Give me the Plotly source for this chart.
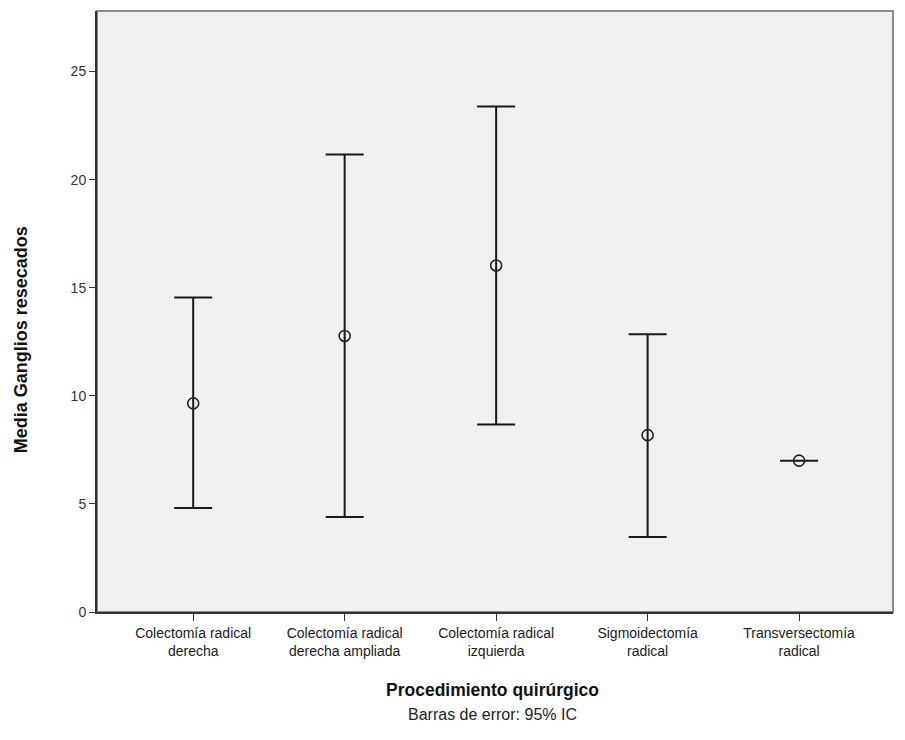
import plotly.graph_objects as go

categories = ["Colectomía radical<br>derecha", "Colectomía radical<br>derecha ampliada",
              "Colectomía radical<br>izquierda", "Sigmoidectomía<br>radical",
              "Transversectomía<br>radical"]
means = [9.65, 12.77, 16.03, 8.18, 7.0]
upper = [14.55, 21.16, 23.38, 12.85, 7.0]
lower = [4.81, 4.40, 8.67, 3.47, 7.0]

err_plus = [u - m for u, m in zip(upper, means)]
err_minus = [m - l for m, l in zip(means, lower)]
xs = list(range(len(categories)))

fig = go.Figure()
fig.add_trace(go.Scatter(
    x=xs, y=means, mode="markers",
    marker=dict(symbol="circle-open", size=11, color="#222222", line=dict(width=1.6)),
    error_y=dict(type="data", symmetric=False, array=err_plus, arrayminus=err_minus,
                 color="#1a1a1a", thickness=2, width=19),
    showlegend=False, hoverinfo="y",
))

fig.update_layout(
    width=897, height=732,
    margin=dict(l=89, r=12, t=3, b=128, autoexpand=False),
    paper_bgcolor="white", plot_bgcolor="#F0F0F0",
    font=dict(family="Liberation Sans, Arial, sans-serif", color="#222222"),
    xaxis=dict(
        range=[-0.635, 4.62], tickmode="array", tickvals=xs, ticktext=categories,
        showgrid=False, zeroline=False, showline=True, linecolor="#333333", linewidth=2,
        ticks="outside", ticklen=7, tickcolor="#333333", tickwidth=1, automargin=False,
        tickfont=dict(family="Liberation Sans, Arial, sans-serif", size=14, color="#1a1a1a"),
    ),
    yaxis=dict(
        range=[0, 27.8], tickvals=[0, 5, 10, 15, 20, 25],
        showgrid=False, zeroline=False, showline=True, linecolor="#333333", linewidth=2,
        ticks="outside", ticklen=6, tickcolor="#333333", tickwidth=1, automargin=False,
        tickfont=dict(family="Liberation Sans, Arial, sans-serif", size=14, color="#333333"),
    ),
    shapes=[dict(type="rect", xref="paper", yref="paper", x0=0, x1=1, y0=0, y1=1,
                 line=dict(color="#888888", width=2), layer="below")],
    annotations=[
        dict(text="<b>Procedimiento quirúrgico</b>", xref="paper", yref="paper",
             x=0.497, y=-0.13, yanchor="middle", xanchor="center", showarrow=False,
             font=dict(family="Liberation Sans, Arial, sans-serif", size=17.5, color="#111111")),
        dict(text="<b>Media Ganglios resecados</b>", xref="paper", yref="paper",
             x=-0.096, y=0.453, xanchor="center", yanchor="middle", textangle=-90, showarrow=False,
             font=dict(family="Liberation Sans, Arial, sans-serif", size=18, color="#111111")),
        dict(text="Barras de error: 95% IC", xref="paper", yref="paper",
             x=0.497, y=-0.17, yanchor="middle", xanchor="center", showarrow=False,
             font=dict(family="Liberation Sans, Arial, sans-serif", size=16, color="#222222")),
    ],
)

fig.write_html("out.html")
